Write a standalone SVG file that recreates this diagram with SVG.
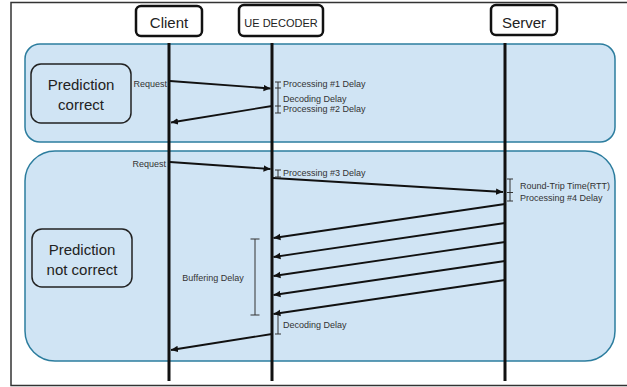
<svg xmlns="http://www.w3.org/2000/svg" width="627" height="387" viewBox="0 0 627 387">
<defs>
<marker id="ah" markerUnits="userSpaceOnUse" markerWidth="8" markerHeight="8" refX="7" refY="4" orient="auto">
<path d="M0,0.8 L7,4 L0,7.2 Z" fill="#111"/>
</marker>
<style>
.panel{fill:#d0e4f4;stroke:#2c7d9e;stroke-width:1.5}
.hdr{fill:#fff;stroke:#111;stroke-width:2.5}
.hdrt{font-family:"Liberation Sans",Arial,sans-serif;fill:#222;text-anchor:middle}
.pbox{fill:#d0e4f4;stroke:#222;stroke-width:1.5}
.pt{font-family:"Liberation Sans",Arial,sans-serif;font-size:15px;fill:#222;text-anchor:middle}
.life{stroke:#111;stroke-width:3}
.msg{stroke:#111;stroke-width:1.8;fill:none;marker-end:url(#ah)}
.br{stroke:#333;stroke-width:1;fill:none}
.sm{font-family:"Liberation Sans",Arial,sans-serif;font-size:9px;fill:#333}
</style>
</defs>
<rect width="627" height="387" fill="#fff"/>
<path d="M640,2.5 H11 V385.5 H640" fill="none" stroke="#333" stroke-width="1.5"/>
<g id="panel-correct"><rect class="panel" x="25" y="44" width="590" height="98" rx="15"/></g>
<g id="panel-not-correct"><rect class="panel" x="25" y="151" width="590" height="210" rx="30"/></g>
<g id="pred-correct"><rect class="pbox" x="31" y="64" width="100" height="59" rx="10"/>
<text class="pt" x="81" y="90">Prediction</text><text class="pt" x="81" y="110">correct</text></g>
<g id="pred-not-correct"><rect class="pbox" x="32" y="229" width="100" height="58" rx="10"/>
<text class="pt" x="82" y="255">Prediction</text><text class="pt" x="82" y="275">not correct</text></g>
<g id="client"><rect class="hdr" x="136" y="6" width="66" height="30" rx="5"/><text class="hdrt" x="169" y="28" font-size="15">Client</text></g>
<g id="ue-decoder"><rect class="hdr" x="239" y="5" width="84" height="31" rx="5"/><text class="hdrt" x="281" y="27" font-size="11">UE DECODER</text></g>
<g id="server"><rect class="hdr" x="491" y="5" width="66" height="30" rx="5"/><text class="hdrt" x="524" y="28" font-size="15">Server</text></g>
<g id="lifelines">
<line class="life" x1="169" y1="43" x2="169" y2="381"/>
<line class="life" x1="272" y1="43" x2="272" y2="381"/>
<line class="life" x1="505" y1="43" x2="505" y2="381"/>
</g>
<g id="connectors">
<line class="msg" x1="170" y1="81" x2="270.5" y2="88.5"/>
<line class="msg" x1="272" y1="106" x2="171" y2="122.5"/>
<line class="msg" x1="170" y1="162" x2="270.5" y2="169"/>
<line class="msg" x1="273" y1="178" x2="503" y2="192"/>
<line class="msg" x1="505" y1="204" x2="273.5" y2="238"/>
<line class="msg" x1="505" y1="223" x2="273.5" y2="257"/>
<line class="msg" x1="505" y1="242" x2="273.5" y2="276"/>
<line class="msg" x1="505" y1="261" x2="273.5" y2="295"/>
<line class="msg" x1="505" y1="280" x2="273.5" y2="314"/>
<line class="msg" x1="272" y1="334" x2="171" y2="350"/>
</g>
<g id="brackets">
<path class="br" d="M278,82 V113 M275,82 H281 M275,88 H281 M275,106 H281 M275,113 H281"/>
<path class="br" d="M278,170 V177 M275,170 H281 M275,177 H281"/>
<path class="br" d="M510,179 V201 M507,179 H513 M507,192.5 H513 M507,201 H513"/>
<path class="br" d="M255,239 V315 M250.5,239 H259.5 M250.5,315 H259.5"/>
<path class="br" d="M278,315 V334 M275,334 H281"/>
</g>
<g id="labels">
<text class="sm" x="167" y="87" text-anchor="end">Request</text>
<text class="sm" x="283" y="87">Processing #1 Delay</text>
<text class="sm" x="283" y="102">Decoding Delay</text>
<text class="sm" x="283" y="112">Processing #2 Delay</text>
<text class="sm" x="166" y="167" text-anchor="end">Request</text>
<text class="sm" x="283" y="176">Processing #3 Delay</text>
<text class="sm" x="520" y="189">Round-Trip Time(RTT)</text>
<text class="sm" x="520" y="200.5">Processing #4 Delay</text>
<text class="sm" x="213" y="281" text-anchor="middle">Buffering Delay</text>
<text class="sm" x="283" y="328">Decoding Delay</text>
</g>
</svg>
